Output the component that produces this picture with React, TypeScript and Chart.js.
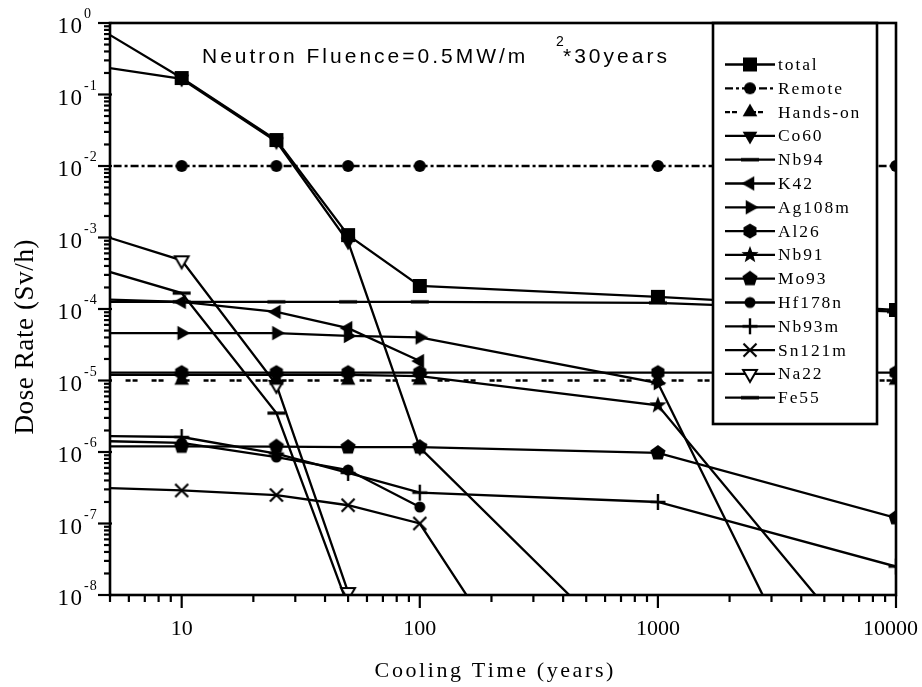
import React, { useEffect, useRef } from 'react';
import { Chart, registerables } from 'chart.js';

Chart.register(...registerables);

// ---------------- data ----------------
const coolingTimes = [1, 10, 25, 50, 100, 1000, 10000];

const totalRate = [16.9, 0.17, 0.0231, 1.08e-3, 2.1e-4, 1.48e-4, 9.7e-5];
const remoteLimit = [1e-2, 1e-2, 1e-2, 1e-2, 1e-2, 1e-2, 1e-2];
const handsOnLimit = [1e-5, 1e-5, 1e-5, 1e-5, 1e-5, 1e-5, 1e-5];
const co60 = [0.53, 0.165, 0.022, 8.7e-4, 1.15e-6, 6e-10, null];
const nb94 = [1.26e-4, 1.26e-4, 1.26e-4, 1.26e-4, 1.26e-4, 1.22e-4, 9.2e-5];
const k42 = [1.58e-4, 1.26e-4, 9.1e-5, 5.4e-5, 1.87e-5, null, null];
const ag108m = [4.6e-5, 4.6e-5, 4.6e-5, 4.2e-5, 4.0e-5, 9.2e-6, 1.7e-12];
const al26 = [1.29e-5, 1.29e-5, 1.29e-5, 1.29e-5, 1.29e-5, 1.29e-5, 1.29e-5];
const nb91 = [1.2e-5, 1.2e-5, 1.2e-5, 1.2e-5, 1.15e-5, 4.5e-6, 4.4e-10];
const mo93 = [1.2e-6, 1.2e-6, 1.19e-6, 1.17e-6, 1.17e-6, 9.7e-7, 1.2e-7];
const hf178n = [1.6e-6, 1.34e-6, 8.5e-7, 5.6e-7, 1.7e-7, null, null];
const nb93m = [1.8e-6, 1.62e-6, 9.5e-7, 5.1e-7, 2.7e-7, 2.0e-7, 2.5e-8];
const sn121m = [3.7e-7, 2.9e-7, 2.5e-7, 1.8e-7, 1.0e-7, 8e-13, null];
const na22 = [5.3e-3, 4.8e-4, 8.7e-6, 1.1e-8, null, null, null];
const fe55 = [1.6e-3, 1.67e-4, 3.5e-6, 7e-9, null, null, null];

const xTickValues = [10, 100, 1000, 10000];
const yTickExponents = [0, -1, -2, -3, -4, -5, -6, -7, -8];

const titleMain = 'Neutron Fluence=0.5MW/m';
const titleSup = '2';
const titleTail = '*30years';
const xAxisTitle = 'Cooling Time (years)';
const yAxisTitle = 'Dose Rate (Sv/h)';

type Series = { name: string; values: (number | null)[]; marker: string; dash?: number[] };

const series: Series[] = [
  { name: 'total', values: totalRate, marker: 'square' },
  { name: 'Remote', values: remoteLimit, marker: 'circle', dash: [8, 3, 3, 3] },
  { name: 'Hands-on', values: handsOnLimit, marker: 'triUp', dash: [5, 2, 5, 14] },
  { name: 'Co60', values: co60, marker: 'triDown' },
  { name: 'Nb94', values: nb94, marker: 'dash' },
  { name: 'K42', values: k42, marker: 'triLeft' },
  { name: 'Ag108m', values: ag108m, marker: 'triRight' },
  { name: 'Al26', values: al26, marker: 'hexagon' },
  { name: 'Nb91', values: nb91, marker: 'star' },
  { name: 'Mo93', values: mo93, marker: 'pentagon' },
  { name: 'Hf178n', values: hf178n, marker: 'halfCircle' },
  { name: 'Nb93m', values: nb93m, marker: 'plus' },
  { name: 'Sn121m', values: sn121m, marker: 'x' },
  { name: 'Na22', values: na22, marker: 'triDownOpen' },
  { name: 'Fe55', values: fe55, marker: 'dash' },
];

// ---------------- helpers ----------------
function makeMarker(kind: string): HTMLCanvasElement {
  const S = 24;
  const c = document.createElement('canvas');
  c.width = S;
  c.height = S;
  const ctx = c.getContext('2d')!;
  ctx.translate(S / 2, S / 2);
  ctx.fillStyle = '#000';
  ctx.strokeStyle = '#000';
  ctx.lineWidth = 2;
  const poly = (n: number, r: number, rotDeg: number) => {
    ctx.beginPath();
    for (let i = 0; i < n; i++) {
      const a = ((rotDeg + (360 / n) * i) * Math.PI) / 180;
      const px = r * Math.cos(a);
      const py = r * Math.sin(a);
      if (i === 0) ctx.moveTo(px, py);
      else ctx.lineTo(px, py);
    }
    ctx.closePath();
  };
  switch (kind) {
    case 'square':
      ctx.fillRect(-7, -7, 14, 14);
      break;
    case 'circle':
      ctx.beginPath();
      ctx.arc(0, 0, 6, 0, Math.PI * 2);
      ctx.fill();
      break;
    case 'triUp':
      poly(3, 8.5, -90);
      ctx.fill();
      break;
    case 'triDown':
      poly(3, 8.5, 90);
      ctx.fill();
      break;
    case 'triLeft':
      poly(3, 8.5, 180);
      ctx.fill();
      break;
    case 'triRight':
      poly(3, 8.5, 0);
      ctx.fill();
      break;
    case 'triDownOpen':
      poly(3, 8, 90);
      ctx.fillStyle = '#fff';
      ctx.fill();
      ctx.stroke();
      break;
    case 'hexagon':
      poly(6, 7.5, -90);
      ctx.fill();
      break;
    case 'pentagon':
      poly(5, 8, -90);
      ctx.fill();
      break;
    case 'star': {
      ctx.beginPath();
      for (let i = 0; i < 10; i++) {
        const r = i % 2 === 0 ? 9 : 3.8;
        const a = ((-90 + 36 * i) * Math.PI) / 180;
        const px = r * Math.cos(a);
        const py = r * Math.sin(a);
        if (i === 0) ctx.moveTo(px, py);
        else ctx.lineTo(px, py);
      }
      ctx.closePath();
      ctx.fill();
      break;
    }
    case 'halfCircle':
      ctx.beginPath();
      ctx.arc(0, 0, 5.5, 0, Math.PI * 2);
      ctx.fill();
      break;
    case 'plus':
      ctx.lineWidth = 2.4;
      ctx.beginPath();
      ctx.moveTo(-7.5, 0);
      ctx.lineTo(7.5, 0);
      ctx.moveTo(0, -8);
      ctx.lineTo(0, 8);
      ctx.stroke();
      break;
    case 'x':
      ctx.lineWidth = 2.2;
      ctx.beginPath();
      ctx.moveTo(-6.5, -6.5);
      ctx.lineTo(6.5, 6.5);
      ctx.moveTo(6.5, -6.5);
      ctx.lineTo(-6.5, 6.5);
      ctx.stroke();
      break;
    case 'dash':
      ctx.fillRect(-9, -1.6, 18, 3.2);
      break;
  }
  return c;
}

function spacedWidth(ctx: CanvasRenderingContext2D, text: string, sp: number) {
  let w = 0;
  for (const ch of text) w += ctx.measureText(ch).width;
  return w + sp * (text.length - 1);
}

function drawSpaced(
  ctx: CanvasRenderingContext2D,
  text: string,
  x: number,
  y: number,
  sp: number,
  align: 'left' | 'center' | 'right' = 'left'
) {
  const w = spacedWidth(ctx, text, sp);
  let cx = align === 'center' ? x - w / 2 : align === 'right' ? x - w : x;
  ctx.textAlign = 'left';
  for (const ch of text) {
    ctx.fillText(ch, cx, y);
    cx += ctx.measureText(ch).width + sp;
  }
}

const SERIF = '"Liberation Serif", "Times New Roman", serif';
const SANS = '"Liberation Sans", Arial, sans-serif';

function decorPlugin(markers: Record<string, HTMLCanvasElement>) {
  return {
    id: 'decor',
    beforeDraw(chart: any) {
      const ctx = chart.ctx as CanvasRenderingContext2D;
      ctx.save();
      ctx.fillStyle = '#fff';
      ctx.fillRect(0, 0, chart.width, chart.height);
      ctx.restore();
    },
    afterDatasetsDraw(chart: any) {
      const ctx = chart.ctx as CanvasRenderingContext2D;
      const area = chart.chartArea;
      const xs = chart.scales.x;
      const ys = chart.scales.y;
      ctx.save();
      ctx.fillStyle = '#000';
      ctx.strokeStyle = '#000';

      // ----- legend box -----
      const lx0 = 713, lx1 = 877, ly0 = area.top, ly1 = 424;
      ctx.fillStyle = '#fff';
      ctx.fillRect(lx0, ly0, lx1 - lx0, ly1 - ly0);
      ctx.lineWidth = 2.6;
      ctx.strokeRect(lx0, ly0, lx1 - lx0, ly1 - ly0);
      ctx.fillStyle = '#000';
      ctx.font = `17.5px ${SERIF}`;
      ctx.textBaseline = 'middle';
      series.forEach((s, i) => {
        const y = 64.5 + i * 23.8;
        ctx.lineWidth = 2.3;
        ctx.setLineDash(s.dash || []);
        ctx.beginPath();
        ctx.moveTo(725, y);
        ctx.lineTo(775, y);
        ctx.stroke();
        ctx.setLineDash([]);
        const m = markers[s.marker];
        ctx.drawImage(m, 750 - m.width / 2, y - m.height / 2);
        drawSpaced(ctx, s.name, 778, y + 1, 1.9);
      });

      // ----- frame -----
      ctx.lineWidth = 2.6;
      ctx.strokeRect(area.left, area.top, area.right - area.left, area.bottom - area.top);

      // ----- y ticks -----
      ctx.lineWidth = 2.2;
      for (let e = -8; e <= 0; e++) {
        const y = ys.getPixelForValue(Math.pow(10, e));
        ctx.beginPath();
        ctx.moveTo(area.left - 12, y);
        ctx.lineTo(area.left + 2, y);
        ctx.stroke();
        if (e < 0) {
          for (let k = 2; k <= 9; k++) {
            const ym = ys.getPixelForValue(k * Math.pow(10, e));
            ctx.beginPath();
            ctx.moveTo(area.left - 6, ym);
            ctx.lineTo(area.left, ym);
            ctx.stroke();
          }
        }
      }
      // ----- x ticks -----
      for (let e = 0; e <= 4; e++) {
        for (let k = 1; k <= 9; k++) {
          const v = k * Math.pow(10, e);
          if (v < 5 || v > 10000) continue;
          const x = xs.getPixelForValue(v);
          const major = k === 1;
          ctx.beginPath();
          ctx.moveTo(x, area.bottom);
          ctx.lineTo(x, area.bottom + (major ? 13 : 7));
          ctx.stroke();
        }
      }

      // ----- y tick labels -----
      ctx.textBaseline = 'alphabetic';
      yTickExponents.forEach((e) => {
        const y = ys.getPixelForValue(Math.pow(10, e));
        ctx.font = `23px ${SERIF}`;
        drawSpaced(ctx, '10', 82, y + 10, 1.5, 'right');
        ctx.font = `14px ${SERIF}`;
        drawSpaced(ctx, String(e), 84, y - 5, 1, 'left');
      });

      // ----- x tick labels -----
      ctx.font = `22px ${SERIF}`;
      xTickValues.forEach((v) => {
        const x = xs.getPixelForValue(v);
        const label = String(v);
        const w = spacedWidth(ctx, label, 0);
        const cx = Math.min(x, chart.width - w / 2 - 4);
        drawSpaced(ctx, label, cx, 635, 0, 'center');
      });

      // ----- axis titles -----
      ctx.font = `22px ${SERIF}`;
      drawSpaced(ctx, xAxisTitle, 494, 677, 2.6, 'center');

      ctx.save();
      ctx.translate(33, 337);
      ctx.rotate(-Math.PI / 2);
      ctx.font = `27px ${SERIF}`;
      drawSpaced(ctx, yAxisTitle, 0, 0, 0.6, 'center');
      ctx.restore();

      // ----- annotation -----
      ctx.font = `21px ${SANS}`;
      drawSpaced(ctx, titleMain, 202, 63, 3, 'left');
      ctx.font = `14px ${SANS}`;
      drawSpaced(ctx, titleSup, 556, 46, 0, 'left');
      ctx.font = `21px ${SANS}`;
      drawSpaced(ctx, titleTail, 563, 63, 3, 'left');

      ctx.restore();
    },
  };
}

export default function App() {
  const ref = useRef<HTMLCanvasElement>(null);

  useEffect(() => {
    const canvas = ref.current;
    if (!canvas) return;
    const markers: Record<string, HTMLCanvasElement> = {};
    series.forEach((s) => {
      if (!markers[s.marker]) markers[s.marker] = makeMarker(s.marker);
    });

    const datasets = series.map((s) => ({
      label: s.name,
      data: coolingTimes
        .map((x, i) => ({ x, y: s.values[i] }))
        .filter((p) => p.y !== null && p.y !== undefined),
      borderColor: '#000',
      backgroundColor: '#000',
      borderWidth: 2.3,
      borderDash: s.dash || [],
      pointStyle: markers[s.marker] as any,
      pointRadius: 7,
      pointHoverRadius: 7,
      clip: { left: 0, top: 10, right: 0, bottom: 0 },
      tension: 0,
      fill: false,
    }));

    const chart = new Chart(canvas, {
      type: 'line',
      data: { datasets: datasets as any },
      options: {
        responsive: false,
        animation: false,
        events: [],
        layout: { padding: { left: 110, right: 26, top: 23, bottom: 92 } },
        scales: {
          x: { type: 'logarithmic', min: 5, max: 10000, display: false },
          y: { type: 'logarithmic', min: 1e-8, max: 1, display: false },
        },
        plugins: {
          legend: { display: false },
          tooltip: { enabled: false },
          title: { display: false },
        },
      },
      plugins: [decorPlugin(markers) as any],
    });
    return () => chart.destroy();
  }, []);

  return (
    <div style={{ position: 'fixed', left: 0, top: 0, width: 922, height: 687, background: '#fff' }}>
      <canvas ref={ref} width={922} height={687} style={{ display: 'block', width: 922, height: 687 }} />
    </div>
  );
}
